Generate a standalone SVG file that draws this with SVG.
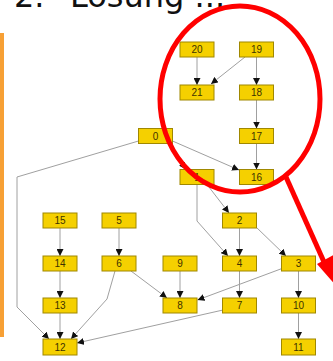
<svg xmlns="http://www.w3.org/2000/svg" width="333" height="361" viewBox="0 0 333 361">
  <style>
    .node rect { fill: #f5d000; stroke: #a08800; stroke-width: 1; }
    .node text { font-family: "Liberation Sans", Arial, sans-serif; font-size: 10px; fill: #3e3200; text-anchor: middle; dominant-baseline: central; }
    .edge { fill: none; stroke: #a0a0a0; stroke-width: 1; marker-end: url(#arrow); }
    .title { font-family: "DejaVu Sans", sans-serif; font-size: 32px; fill: #111; }
  </style>
  <defs>
    <marker id="arrow" markerUnits="userSpaceOnUse" markerWidth="7" markerHeight="7" refX="7" refY="3.5" orient="auto">
      <path d="M0,0 L7,3.5 L0,7 z" fill="#111"/>
    </marker>
  </defs>

  <rect width="333" height="361" fill="#ffffff"/>

  <!-- heading, mostly above the top edge -->
  <text class="title" y="7"><tspan x="14">2.</tspan><tspan x="70">Lösung ...</tspan></text>

  <!-- orange side bar -->
  <rect x="0" y="33" width="4" height="304" fill="#f7a035"/>

  <!-- connectors -->
  <g id="edges">
    <line class="edge" x1="197" y1="57" x2="197" y2="85"/>
    <line class="edge" x1="245" y1="57" x2="211" y2="84"/>
    <line class="edge" x1="256.5" y1="57" x2="256.5" y2="85"/>
    <line class="edge" x1="256.5" y1="100" x2="256.5" y2="128.5"/>
    <line class="edge" x1="256.5" y1="143.5" x2="256.5" y2="169.5"/>
    <line class="edge" x1="172.5" y1="141" x2="239" y2="170"/>
    <line class="edge" x1="168" y1="143.5" x2="186" y2="169.5"/>
    <polyline class="edge" points="138.5,141 17,177 17,307 49,339"/>
    <line class="edge" x1="207" y1="184.5" x2="229" y2="213"/>
    <polyline class="edge" points="197,184.5 197,221 228,256"/>
    <line class="edge" x1="239.5" y1="228" x2="239.5" y2="256"/>
    <line class="edge" x1="256" y1="227" x2="286" y2="256"/>
    <line class="edge" x1="60" y1="228" x2="60" y2="256"/>
    <line class="edge" x1="119" y1="228" x2="119" y2="256"/>
    <line class="edge" x1="60" y1="271" x2="60" y2="298"/>
    <line class="edge" x1="60" y1="313" x2="60" y2="339"/>
    <line class="edge" x1="131" y1="271" x2="167" y2="298"/>
    <polyline class="edge" points="115,271 107,299 71,339"/>
    <line class="edge" x1="180" y1="271" x2="180" y2="298"/>
    <line class="edge" x1="282" y1="268.5" x2="197.5" y2="300"/>
    <line class="edge" x1="239.5" y1="271" x2="239.5" y2="298"/>
    <line class="edge" x1="223" y1="310" x2="77" y2="343"/>
    <line class="edge" x1="298.5" y1="271" x2="298.5" y2="298"/>
    <line class="edge" x1="298.5" y1="313" x2="298.5" y2="339"/>
  </g>

  <!-- nodes -->
  <g id="n20" class="node"><rect x="180" y="42" width="34" height="15"/><text x="197" y="49.5">20</text></g>
  <g id="n19" class="node"><rect x="239.5" y="42" width="34" height="15"/><text x="256.5" y="49.5">19</text></g>
  <g id="n21" class="node"><rect x="180" y="85" width="34" height="15"/><text x="197" y="92.5">21</text></g>
  <g id="n18" class="node"><rect x="239.5" y="85" width="34" height="15"/><text x="256.5" y="92.5">18</text></g>
  <g id="n0" class="node"><rect x="138.5" y="128.5" width="34" height="15"/><text x="155.5" y="136">0</text></g>
  <g id="n17" class="node"><rect x="239.5" y="128.5" width="34" height="15"/><text x="256.5" y="136">17</text></g>
  <g id="n1" class="node"><rect x="180" y="169.5" width="34" height="15"/><text x="197" y="177">1</text></g>
  <g id="n16" class="node"><rect x="239.5" y="169.5" width="34" height="15"/><text x="256.5" y="177">16</text></g>
  <g id="n15" class="node"><rect x="43" y="213" width="34" height="15"/><text x="60" y="220.5">15</text></g>
  <g id="n5" class="node"><rect x="102" y="213" width="34" height="15"/><text x="119" y="220.5">5</text></g>
  <g id="n2" class="node"><rect x="222.5" y="213" width="34" height="15"/><text x="239.5" y="220.5">2</text></g>
  <g id="n14" class="node"><rect x="43" y="256" width="34" height="15"/><text x="60" y="263.5">14</text></g>
  <g id="n6" class="node"><rect x="102" y="256" width="34" height="15"/><text x="119" y="263.5">6</text></g>
  <g id="n9" class="node"><rect x="163" y="256" width="34" height="15"/><text x="180" y="263.5">9</text></g>
  <g id="n4" class="node"><rect x="222.5" y="256" width="34" height="15"/><text x="239.5" y="263.5">4</text></g>
  <g id="n3" class="node"><rect x="281.5" y="256" width="34" height="15"/><text x="298.5" y="263.5">3</text></g>
  <g id="n13" class="node"><rect x="43" y="298" width="34" height="15"/><text x="60" y="305.5">13</text></g>
  <g id="n8" class="node"><rect x="163" y="298" width="34" height="15"/><text x="180" y="305.5">8</text></g>
  <g id="n7" class="node"><rect x="222.5" y="298" width="34" height="15"/><text x="239.5" y="305.5">7</text></g>
  <g id="n10" class="node"><rect x="281.5" y="298" width="34" height="15"/><text x="298.5" y="305.5">10</text></g>
  <g id="n12" class="node"><rect x="43" y="339" width="34" height="16"/><text x="60" y="347">12</text></g>
  <g id="n11" class="node"><rect x="281.5" y="339" width="34" height="16"/><text x="298.5" y="347">11</text></g>

  <!-- red highlight ring and pointer -->
  <ellipse cx="240" cy="99" rx="80" ry="93" fill="none" stroke="#ff0000" stroke-width="5"/>
  <line x1="286" y1="177" x2="324" y2="262" stroke="#ff0000" stroke-width="5"/>
  <polygon points="317,264 339,252 344,295" fill="#ff0000"/>
</svg>
